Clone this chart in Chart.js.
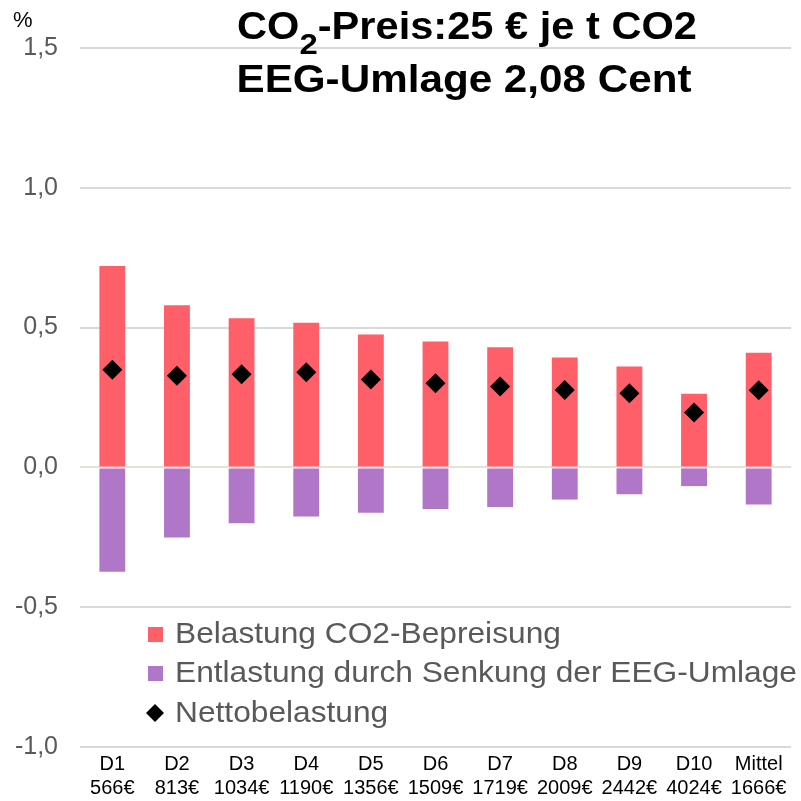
<!DOCTYPE html>
<html>
<head>
<meta charset="utf-8">
<script src="https://cdn.jsdelivr.net/npm/chart.js@4"></script>
<style>
  body { margin: 0; background: #fff; }
  canvas { display: block; }
</style>
</head>
<body>
<canvas id="chart" width="801" height="801"></canvas>
<script>
// --- Data ---
const deciles = ["D1", "D2", "D3", "D4", "D5", "D6", "D7", "D8", "D9", "D10", "Mittel"];
const incomes = ["566€", "813€", "1034€", "1190€", "1356€", "1509€", "1719€", "2009€", "2442€", "4024€", "1666€"];
const belastung = [0.72, 0.58, 0.533, 0.517, 0.475, 0.45, 0.43, 0.393, 0.361, 0.263, 0.41];
const entlastung = [-0.373, -0.251, -0.2, -0.176, -0.162, -0.149, -0.142, -0.115, -0.096, -0.067, -0.133];
const netto = [0.349, 0.328, 0.333, 0.34, 0.314, 0.301, 0.289, 0.277, 0.265, 0.196, 0.276];
const yTicks = [-1.0, -0.5, 0.0, 0.5, 1.0, 1.5];

const SANS = '"Liberation Sans", Arial, sans-serif';

// --- Title, unit and legend drawn on the canvas ---
const extras = {
  id: "extras",
  afterDraw(chart) {
    const ctx = chart.ctx;
    ctx.save();

    // unit
    ctx.fillStyle = "#000";
    ctx.font = "22px " + SANS;
    ctx.textAlign = "left";
    ctx.textBaseline = "alphabetic";
    ctx.fillText("%", 13, 27);

    // title line 1 with subscript, fitted to the reference width
    const big = "bold 38px " + SANS;
    const small = "bold 30px " + SANS;
    const a = "CO", b = "2", c = "-Preis:25 € je t CO2";
    ctx.font = big;
    const wa = ctx.measureText(a).width;
    const wc = ctx.measureText(c).width;
    ctx.font = small;
    const wb = ctx.measureText(b).width;
    const total = wa + wb + wc;
    ctx.save();
    ctx.translate(467, 0);
    ctx.scale(460 / total, 1);
    let x = -total / 2;
    ctx.font = big;
    ctx.fillText(a, x, 39);
    ctx.font = small;
    ctx.fillText(b, x + wa, 54);
    ctx.font = big;
    ctx.fillText(c, x + wa + wb, 39);
    ctx.restore();

    // title line 2
    const line2 = "EEG-Umlage 2,08 Cent";
    ctx.font = big;
    const w2 = ctx.measureText(line2).width;
    ctx.save();
    ctx.translate(464, 0);
    ctx.scale(455 / w2, 1);
    ctx.fillText(line2, -w2 / 2, 92);
    ctx.restore();

    // legend
    const rows = [634, 673, 713];
    ctx.font = "30px " + SANS;
    ctx.textBaseline = "middle";
    const legendScale = 622 / ctx.measureText(chart.data.datasets[1].label).width;
    chart.data.datasets.forEach((ds, i) => {
      const y = rows[i];
      ctx.fillStyle = ds.backgroundColor;
      if (ds.type === "line") {
        ctx.beginPath();
        ctx.moveTo(155, y - 9);
        ctx.lineTo(164, y);
        ctx.lineTo(155, y + 9);
        ctx.lineTo(146, y);
        ctx.closePath();
        ctx.fill();
      } else {
        ctx.fillRect(148, y - 7, 15, 15);
      }
      ctx.save();
      ctx.translate(175, y + 1);
      ctx.scale(legendScale, 1);
      ctx.fillStyle = "#595959";
      ctx.fillText(ds.label, 0, 0);
      ctx.restore();
    });

    ctx.restore();
  }
};

const ctx = document.getElementById("chart").getContext("2d");

new Chart(ctx, {
  data: {
    labels: deciles.map((d, i) => [d, incomes[i]]),
    datasets: [
      {
        type: "bar",
        label: "Belastung CO2-Bepreisung",
        data: belastung,
        backgroundColor: "#FE5F69",
        order: 1
      },
      {
        type: "bar",
        label: "Entlastung durch Senkung der EEG-Umlage",
        data: entlastung,
        backgroundColor: "#B077C9",
        order: 1
      },
      {
        type: "line",
        label: "Nettobelastung",
        data: netto,
        showLine: false,
        pointStyle: "rectRot",
        pointRadius: 10,
        pointHoverRadius: 10,
        borderWidth: 0,
        backgroundColor: "#000",
        borderColor: "#000",
        order: 0
      }
    ]
  },
  options: {
    responsive: false,
    animation: false,
    layout: { padding: { top: 48, right: 6, left: 0, bottom: 0 } },
    datasets: {
      bar: { barPercentage: 0.4, categoryPercentage: 1 }
    },
    plugins: {
      legend: { display: false },
      title: { display: false },
      tooltip: { enabled: false }
    },
    scales: {
      x: {
        stacked: true,
        grid: { display: false },
        border: { display: false },
        ticks: {
          color: "#000",
          font: { family: SANS, size: 20 },
          padding: -3,
          maxRotation: 0,
          autoSkip: false
        },
        afterFit(scale) { scale.height = 54; }
      },
      y: {
        stacked: true,
        min: yTicks[0],
        max: yTicks[yTicks.length - 1],
        afterBuildTicks(scale) { scale.ticks = yTicks.map(v => ({ value: v })); },
        ticks: {
          color: "#595959",
          font: { family: SANS, size: 25 },
          padding: 22,
          callback: v => v.toFixed(1).replace(".", ",")
        },
        grid: {
          color: c => (c.tick && c.tick.value === 0 ? "#e6e2d4" : "#d9d9d9"),
          lineWidth: 2,
          drawTicks: false
        },
        border: { display: false },
        afterFit(scale) { scale.width = 80; }
      }
    }
  },
  plugins: [extras]
});
</script>
</body>
</html>
